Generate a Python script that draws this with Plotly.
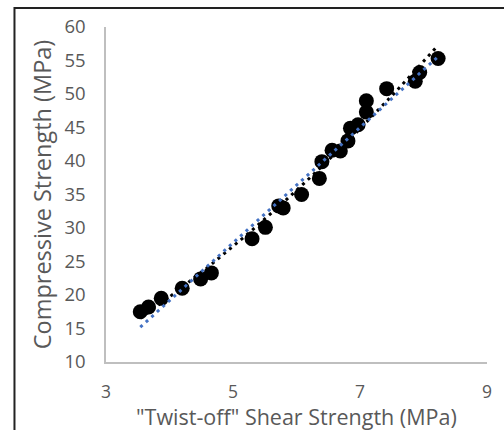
import numpy as np
import plotly.graph_objects as go

# Data
shear_strength = [3.54, 3.67, 3.87, 4.20, 4.49, 4.66, 5.30, 5.51, 5.72, 5.79, 6.08, 6.36,
                  6.40, 6.56, 6.69, 6.81, 6.85, 6.97, 7.10, 7.10, 7.42, 7.87, 7.94, 8.23]
compressive_strength = [17.5, 18.2, 19.5, 21.0, 22.4, 23.3, 28.4, 30.1, 33.3, 33.0, 35.0, 37.4,
                        39.9, 41.6, 41.5, 43.0, 44.9, 45.4, 47.3, 49.0, 50.8, 51.9, 53.2, 55.3]
x_ticks = [3, 5, 7, 9]
y_ticks = [10, 15, 20, 25, 30, 35, 40, 45, 50, 55, 60]

xs = np.array(shear_strength)
ys = np.array(compressive_strength)
xfit = np.linspace(xs.min(), xs.max(), 200)
poly2 = np.polyval(np.polyfit(xs, ys, 2), xfit)
lin = np.polyval(np.polyfit(xs, ys, 1), xfit)

W, H = 504, 430
L, R, T, B = 106, 15, 27, 68
pw, ph = W - L - R, H - T - B

fig = go.Figure()
fig.add_trace(go.Scatter(x=shear_strength, y=compressive_strength, mode="markers",
                         marker=dict(size=15, color="black"), showlegend=False))
fig.add_trace(go.Scatter(x=xfit, y=poly2, mode="lines",
                         line=dict(color="black", width=3, dash="3px,4.5px"), showlegend=False))
fig.add_trace(go.Scatter(x=xfit, y=lin, mode="lines",
                         line=dict(color="#4472C4", width=3, dash="3px,4.5px"), showlegend=False))

font_fam = "Open Sans, sans-serif"
fig.update_layout(
    width=W, height=H,
    margin=dict(l=L, r=R, t=T, b=B),
    paper_bgcolor="white", plot_bgcolor="white",
    font=dict(family=font_fam, color="#595959"),
    xaxis=dict(range=[3, 9], tickvals=x_ticks, showgrid=False, zeroline=False,
               showline=True, linecolor="#bfbfbf", linewidth=1.5,
               ticks="outside", ticklen=13, tickcolor="rgba(0,0,0,0)",
               tickfont=dict(size=17.5, color="#595959")),
    yaxis=dict(range=[10, 60], tickvals=y_ticks, showgrid=False, zeroline=False,
               showline=True, linecolor="#bfbfbf", linewidth=1.5,
               ticks="outside", ticklen=15, tickcolor="rgba(0,0,0,0)",
               tickfont=dict(size=18.5, color="#595959"),
               title=dict(text="Compressive Strength (MPa)", font=dict(size=23.5, color="#595959"),
                          standoff=6)),
)

# x-axis title placed as an annotation so it sits close under the tick labels
fig.add_annotation(text='"Twist-off" Shear Strength (MPa)', xref="paper", yref="paper",
                   x=0.5, y=-(416 - (H - B)) / ph, xanchor="center", yanchor="middle",
                   showarrow=False, font=dict(size=21.5, color="#595959", family=font_fam))

# chart border (left and top edges visible)
x0 = (14 - L) / pw
x1 = (W + 20 - L) / pw
y_top = (H - B - 8) / ph
y_bot = (H - B - (H + 20)) / ph
fig.add_shape(type="rect", xref="paper", yref="paper", x0=x0, x1=x1, y0=y_bot, y1=y_top,
              line=dict(color="#222222", width=2), layer="below")

fig.write_html("out.html")
